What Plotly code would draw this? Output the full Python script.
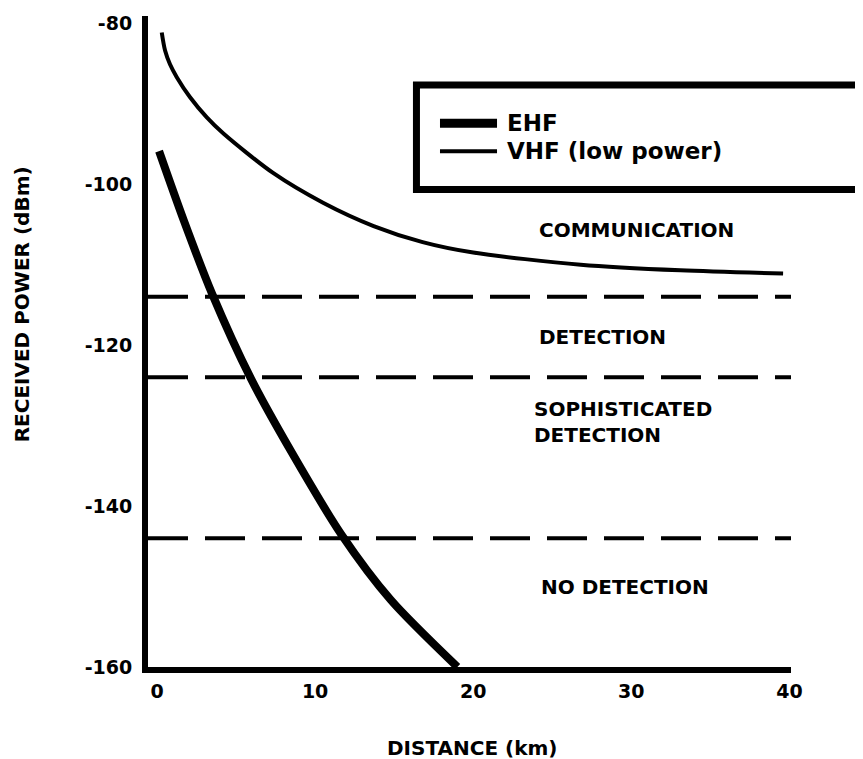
import plotly.graph_objects as go

# ---- data ----
ehf_km = [0.13, 1.71, 3.48, 5.95, 8.48, 11.65, 14.8, 19.0]
ehf_dbm = [-95.9, -104.6, -113.6, -124.2, -133.2, -143.5, -151.7, -160.0]

vhf_km = [0.30, 0.51, 0.82, 1.25, 2.09, 3.15, 4.2, 7.34, 10.5, 13.7, 16.8, 20.0, 26.8, 33.1, 39.6]
vhf_dbm = [-81.15, -83.4, -85.1, -86.7, -89.2, -91.7, -93.7, -98.6, -102.3, -105.2, -107.2, -108.5,
           -110.0, -110.7, -111.1]

threshold_dbm = [-114, -124, -144]

x_ticks = [0, 10, 20, 30, 40]
x_tick_text = ["0", "10", "20", "30", "40"]
y_ticks = [-160, -140, -120, -100, -80]
y_tick_text = ["-160", "-140", "-120", "-100", "-80"]

region_labels = ["COMMUNICATION", "DETECTION", "SOPHISTICATED<br>DETECTION", "NO DETECTION"]
region_x = [30.3, 28.2, 23.7, 29.6]
region_y = [-105.7, -119.0, -129.6, -150.1]
region_anchor = ["center", "center", "left", "center"]

series_names = ["EHF", "VHF (low power)"]

FONT = "DejaVu Sans"

fig = go.Figure()
fig.add_trace(go.Scatter(x=vhf_km, y=vhf_dbm, mode="lines", name=series_names[1],
                         line=dict(color="black", width=4, shape="spline", smoothing=0.8),
                         showlegend=False))
fig.add_trace(go.Scatter(x=ehf_km, y=ehf_dbm, mode="lines", name=series_names[0],
                         line=dict(color="black", width=8, shape="spline", smoothing=0.8),
                         showlegend=False))

for lvl in threshold_dbm:
    fig.add_hline(y=lvl, line=dict(color="black", width=4, dash="40px,17px"))

for txt, xx, yy, anc in zip(region_labels, region_x, region_y, region_anchor):
    fig.add_annotation(x=xx, y=yy, xref="x", yref="y", text=txt, showarrow=False,
                       xanchor=anc, yanchor="middle", align="left",
                       font=dict(family=FONT, size=20, weight="bold", color="black"))

# manual legend box (paper coords)
fig.add_shape(type="rect", xref="paper", yref="paper", x0=0.4175, x1=1.105, y0=0.7336, y1=0.8939,
              line=dict(color="black", width=7), fillcolor="white")
legend_y = [0.8351, 0.7924]
legend_w = [9, 4]
for name, ly, lw in zip(series_names, legend_y, legend_w):
    fig.add_shape(type="line", xref="paper", yref="paper", x0=0.4541, x1=0.5428, y0=ly, y1=ly,
                  line=dict(color="black", width=lw))
    fig.add_annotation(x=0.5552, y=ly, xref="paper", yref="paper", text=name, showarrow=False,
                       xanchor="left", yanchor="middle",
                       font=dict(family=FONT, size=23, weight="bold", color="black"))

# axis titles
fig.add_annotation(x=-0.196, y=0.557, xref="paper", yref="paper", text="RECEIVED POWER (dBm)",
                   textangle=-90, showarrow=False, xanchor="center", yanchor="middle",
                   font=dict(family=FONT, size=20, weight="bold", color="black"))
fig.add_annotation(x=0.504, y=-0.1237, xref="paper", yref="paper", text="DISTANCE (km)",
                   showarrow=False, xanchor="center", yanchor="middle",
                   font=dict(family=FONT, size=20, weight="bold", color="black"))

fig.update_xaxes(range=[-0.57, 40.1], tickvals=x_ticks, ticktext=x_tick_text,
                 showgrid=False, zeroline=False,
                 showline=True, linecolor="black", linewidth=6, ticks="outside", ticklen=0,
                 ticklabelstandoff=2, ticklabeloverflow="allow",
                 tickfont=dict(family=FONT, size=19, weight="bold", color="black"))
fig.update_yaxes(range=[-160, -79.1], tickvals=y_ticks, ticktext=y_tick_text,
                 showgrid=False, zeroline=False,
                 showline=True, linecolor="black", linewidth=6, ticks="outside", ticklen=0,
                 ticklabelstandoff=6, ticklabeloverflow="allow",
                 tickfont=dict(family=FONT, size=19, weight="bold", color="black"))

# page body has an 8px margin, so the figure is shifted by 8px; margins compensate
fig.update_layout(width=855, height=751, margin=dict(l=140, r=72, t=4, b=92),
                  plot_bgcolor="white", paper_bgcolor="white", showlegend=False)

fig.write_html("out.html")
